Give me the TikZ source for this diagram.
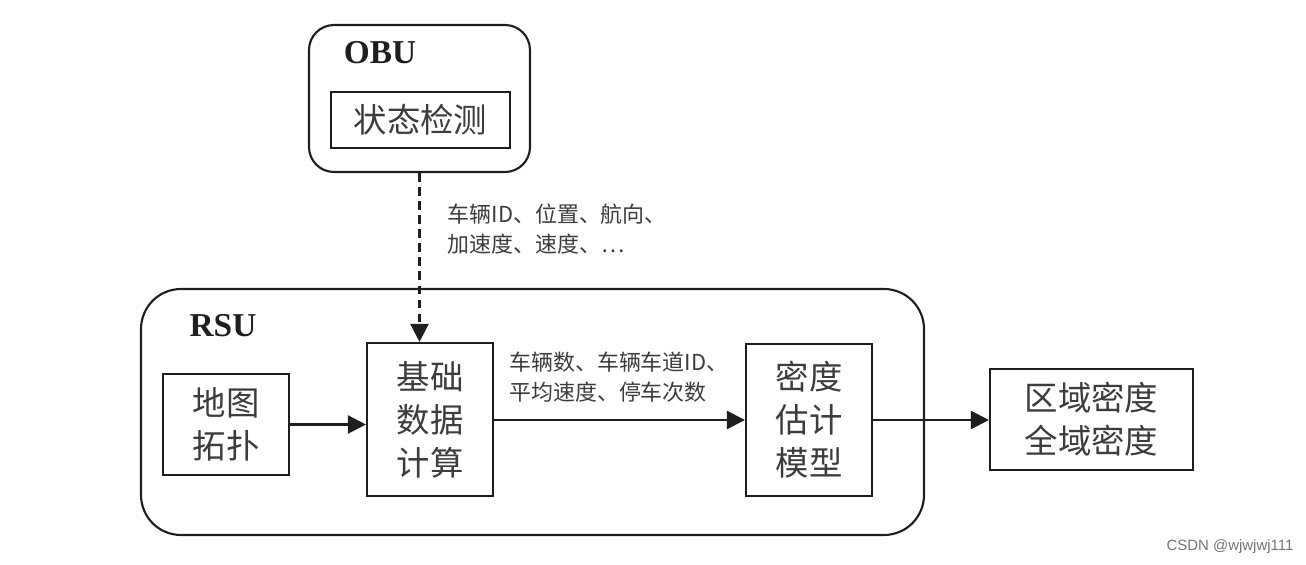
\documentclass[tikz,border=0pt]{standalone}
\usepackage{fontspec}
\setmainfont{Liberation Serif}
\newfontfamily\cjk{Noto Sans CJK SC}
\newfontfamily\marksans{Liberation Sans}
\usetikzlibrary{arrows.meta,calc,positioning}
\definecolor{DiagInk}{HTML}{1E1E1E}
\definecolor{DiagText}{HTML}{3C3C3C}
\tikzset{
  unit/.style={draw=DiagInk, line width=1.2pt, minimum width=#1, anchor=center},
  block/.style={draw=DiagInk, line width=1.2pt, align=center, inner sep=2pt, text=DiagText, font=\cjk\fontsize{19}{24.5}\selectfont},
  tag/.style={font=\bfseries\fontsize{19}{22}\selectfont, text=DiagInk, inner sep=0pt},
  flow/.style={-{Triangle[length=3.6mm,width=3.6mm]}, line width=1.3pt, draw=DiagInk},
  feed/.style={flow, dash pattern=on 5pt off 3pt},
  note/.style={font=\cjk\fontsize{12.5}{17}\selectfont, text=DiagText, align=left, inner sep=0pt},
}
\begin{document}
\begin{tikzpicture}
  \useasboundingbox (0,0) rectangle (26.12,11.28);
  % units
  \node[unit=4.42cm, minimum height=2.94cm, rounded corners=0.5cm] (obu) at (8.39,9.31) {};
  \node[unit=15.66cm, minimum height=4.92cm, rounded corners=0.8cm] (rsu) at (10.65,3.04) {};
  \node[tag] (obutag) at (7.6,10.22) {OBU};
  \node[tag] (rsutag) at (4.46,4.76) {RSU};
  % blocks
  \node[block, minimum width=3.58cm, minimum height=1.12cm] (detect) at (8.41,8.88) {状态检测};
  \node[block, minimum width=2.52cm, minimum height=2.02cm] (maptopo) at (4.52,2.79) {地图\\拓扑};
  \node[block, minimum width=2.52cm, minimum height=3.06cm] (basic) at (8.6,2.89) {基础\\数据\\计算};
  \node[block, minimum width=2.52cm, minimum height=3.04cm] (density) at (16.18,2.88) {密度\\估计\\模型};
  \node[block, minimum width=4.06cm, minimum height=2.02cm] (region) at (21.83,2.89) {区域密度\\全域密度};
  % connectors
  \draw[feed] (obu.south) -- node[pos=0.33, right=0.54cm, note]{车辆ID、位置、航向、\\加速度、速度、…} (obu.south |- basic.north);
  \draw[flow] (maptopo.east) -- (maptopo.east -| basic.west);
  \draw[flow] (basic.east |- density.west) -- node[pos=0, anchor=south west, xshift=0.28cm, yshift=0.34cm, note]{车辆数、车辆车道ID、\\平均速度、停车次数} (density.west);
  \draw[flow] (density.east) -- (density.east -| region.west);
  \node[font=\marksans\fontsize{8.5}{10}\selectfont, text=black!55] (mark) at (24.6,0.34) {CSDN @wjwjwj111};
\end{tikzpicture}
\end{document}
